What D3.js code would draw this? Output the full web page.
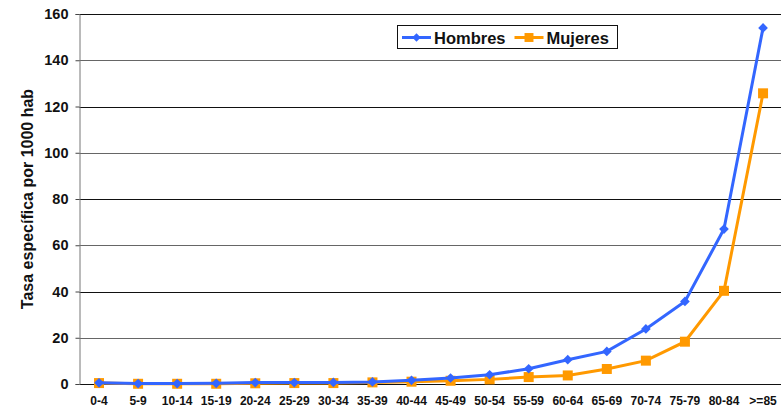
<!DOCTYPE html>
<html>
<head>
<meta charset="utf-8">
<script src="https://cdn.jsdelivr.net/npm/d3@7"></script>
<style>
body { margin: 0; background: #fff; }
text { font-family: "Liberation Sans", Arial, sans-serif; font-weight: bold; }
</style>
</head>
<body>
<div id="chart"></div>
<script>
var width = 781, height = 413;

var grupos = ['0-4','5-9','10-14','15-19','20-24','25-29','30-34','35-39','40-44',
              '45-49','50-54','55-59','60-64','65-69','70-74','75-79','80-84','>=85'];
var hombres = [0.5, 0.2, 0.2, 0.3, 0.6, 0.6, 0.7, 0.9, 1.6, 2.6, 4.0, 6.6, 10.5, 14.1, 23.8, 35.7, 67, 154];
var mujeres = [0.4, 0.1, 0.1, 0.1, 0.3, 0.4, 0.4, 0.7, 1.0, 1.4, 2.0, 3.0, 3.7, 6.5, 10.1, 18.3, 40.3, 125.7];
var yTicks = [0, 20, 40, 60, 80, 100, 120, 140, 160];

var margin = {left: 79.5, top: 14, bottom: 29};

var svg = d3.select('#chart').append('svg')
            .attr('width', width).attr('height', height);

var x = d3.scaleBand().domain(grupos)
          .range([margin.left, margin.left + 39.06 * grupos.length]);
var y = d3.scaleLinear().domain([0, 160]).range([height - margin.bottom, margin.top]);

// gridlines
svg.append('g').selectAll('line').data(yTicks).enter().append('line')
    .attr('x1', margin.left).attr('x2', width)
    .attr('y1', function(d){ return Math.round(y(d)) + 0.5; })
    .attr('y2', function(d){ return Math.round(y(d)) + 0.5; })
    .attr('stroke', function(d){ return d % 40 === 20 ? '#666' : '#111'; })
    .attr('stroke-width', 1);

// y axis
var yAxis = svg.append('g')
    .attr('transform', 'translate(' + margin.left + ',0)')
    .call(d3.axisLeft(y).tickValues(yTicks).tickSize(4).tickPadding(7));
yAxis.select('.domain').attr('stroke', '#777');
yAxis.selectAll('.tick line').attr('stroke', '#444');
yAxis.selectAll('text').attr('font-size', 14.5).attr('fill', '#111')
    .style('font-family', '"Liberation Sans", Arial, sans-serif').style('font-weight', 'bold');

// x axis labels
var xAxis = svg.append('g')
    .attr('transform', 'translate(0,' + (height - margin.bottom) + ')')
    .call(d3.axisBottom(x).tickSize(0).tickPadding(12));
xAxis.select('.domain').remove();
xAxis.selectAll('text').attr('font-size', 12).attr('fill', '#111')
    .style('font-family', '"Liberation Sans", Arial, sans-serif').style('font-weight', 'bold');

// y label
svg.append('text')
    .attr('transform', 'translate(33,199) rotate(-90)')
    .attr('text-anchor', 'middle')
    .attr('font-size', 16).attr('fill', '#111')
    .text('Tasa específica por 1000 hab');

var cx = function(d, i){ return x(grupos[i]) + x.bandwidth() / 2; };

var line = d3.line()
    .x(function(d, i){ return cx(d, i); })
    .y(function(d){ return y(d); });

var series = [
  {name: 'Hombres', values: hombres, color: '#3366ff', marker: 'diamond'},
  {name: 'Mujeres', values: mujeres, color: '#ff9900', marker: 'square'}
];

series.slice().reverse().forEach(function(s){
  svg.append('path').datum(s.values)
     .attr('d', line)
     .attr('fill', 'none')
     .attr('stroke', s.color)
     .attr('stroke-width', 3);
  var sym = s.marker === 'diamond' ? d3.symbol().type(d3.symbolDiamond2).size(60)
                                   : d3.symbol().type(d3.symbolSquare).size(100);
  svg.append('g').selectAll('path').data(s.values).enter().append('path')
     .attr('d', sym)
     .attr('transform', function(d, i){ return 'translate(' + cx(d, i) + ',' + y(d) + ')'; })
     .attr('fill', s.color);
});

// legend
var legend = svg.append('g').attr('transform', 'translate(397,25)');
legend.append('rect').attr('x', 0.5).attr('y', 0.5).attr('width', 220).attr('height', 23)
      .attr('fill', '#fff').attr('stroke', '#111');
var items = legend.selectAll('g.item').data(series).enter().append('g')
      .attr('transform', function(d, i){ return 'translate(' + (5 + i * 112.5) + ',12.5)'; });
items.append('line').attr('x1', 0).attr('x2', 29).attr('y1', 0).attr('y2', 0)
     .attr('stroke', function(d){ return d.color; }).attr('stroke-width', 3);
items.append('path')
     .attr('d', function(d){
       return d.marker === 'diamond' ? d3.symbol().type(d3.symbolDiamond2).size(45)()
                                     : d3.symbol().type(d3.symbolSquare).size(80)();
     })
     .attr('transform', 'translate(14.5,0)')
     .attr('fill', function(d){ return d.color; });
items.append('text').attr('x', 32).attr('y', 6)
     .attr('font-size', 16.5).attr('fill', '#111')
     .text(function(d){ return d.name; });
</script>
</body>
</html>
